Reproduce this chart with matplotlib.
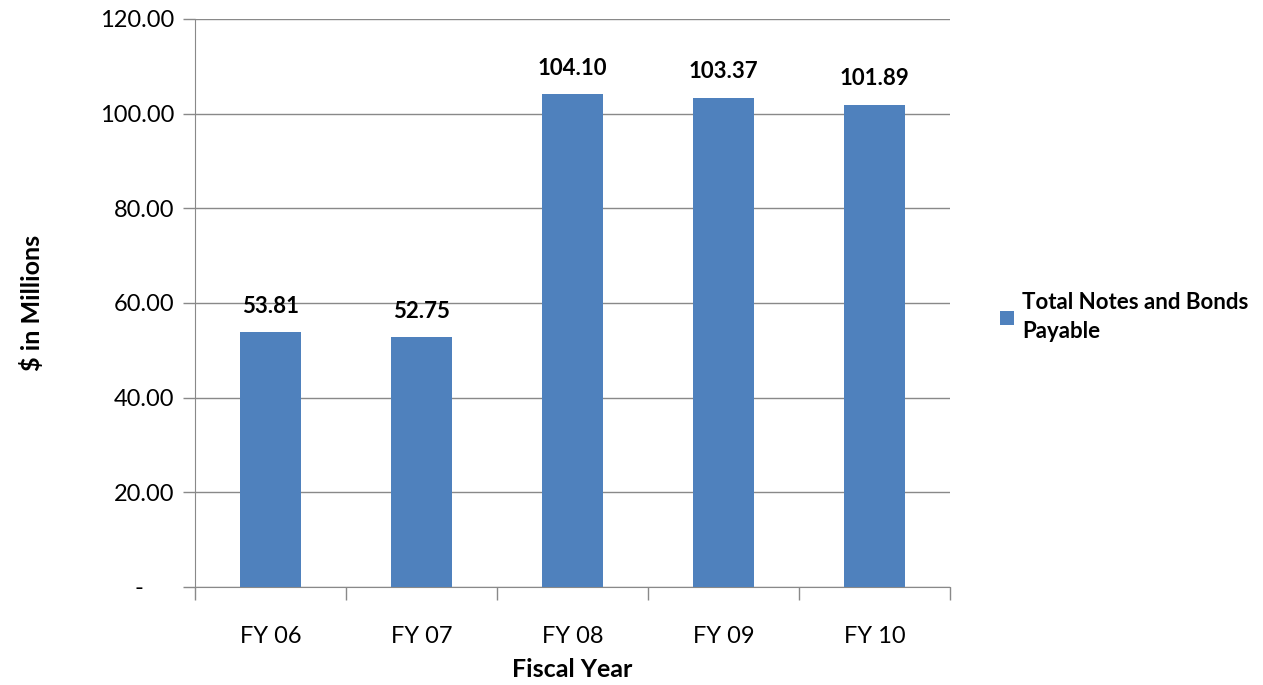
import numpy as np
import matplotlib.pyplot as plt

years = ['FY 06', 'FY 07', 'FY 08', 'FY 09', 'FY 10']
payable = [53.81, 52.75, 104.10, 103.37, 101.89]
yticks = [0, 20, 40, 60, 80, 100, 120]
# accounting style: zero shown as a dash set back from the digits
ytick_labels = ['-     ', '20.00', '40.00', '60.00', '80.00', '100.00', '120.00']

plt.rcParams['font.family'] = ['Lato', 'DejaVu Sans']

fig = plt.figure(figsize=(12.63, 6.85), dpi=100)
ax = fig.add_axes([0.1544, 0.1431, 0.5978, 0.8292])

x = np.arange(len(years))
bars = ax.bar(x, payable, 0.4, color='#4F81BD', zorder=3,
              label='Total Notes and Bonds\nPayable')

# value labels above each bar
for xi, v in zip(x, payable):
    ax.text(xi, v + 3.3, '%.2f' % v, ha='center', va='bottom',
            fontsize=16, fontweight='bold', color='black')

ax.set_xlim(-0.5, len(years) - 0.5)
ax.set_ylim(0, 120)
ax.set_yticks(yticks)
ax.set_yticklabels(ytick_labels)
ax.set_xticks(x)
ax.set_xticklabels(years)
# category boundary ticks on the x axis
ax.set_xticks(np.arange(-0.5, len(years)), minor=True)
ax.tick_params(axis='x', which='major', length=0, pad=28, labelsize=17)
ax.tick_params(axis='x', which='minor', length=9, width=1, color='#898989')
ax.tick_params(axis='y', length=9, width=1, color='#898989', pad=6, labelsize=17)

ax.grid(axis='y', color='#898989', linewidth=1, zorder=0)
for side in ['top', 'right']:
    ax.spines[side].set_visible(False)
for side in ['left', 'bottom']:
    ax.spines[side].set_color('#898989')

ax.set_xlabel('Fiscal Year', fontsize=18, fontweight='bold', labelpad=8)
ax.set_ylabel('$ in Millions', fontsize=18, fontweight='bold', labelpad=40)

leg = ax.legend(loc='upper left', bbox_to_anchor=(1.04, 0.555), frameon=False,
                fontsize=16, handlelength=0.6, handleheight=0.6, handletextpad=0.4,
                labelspacing=0.3)
for t in leg.get_texts():
    t.set_fontweight('bold')
    t.set_linespacing(1.5)

plt.savefig('out.png', dpi=100)
